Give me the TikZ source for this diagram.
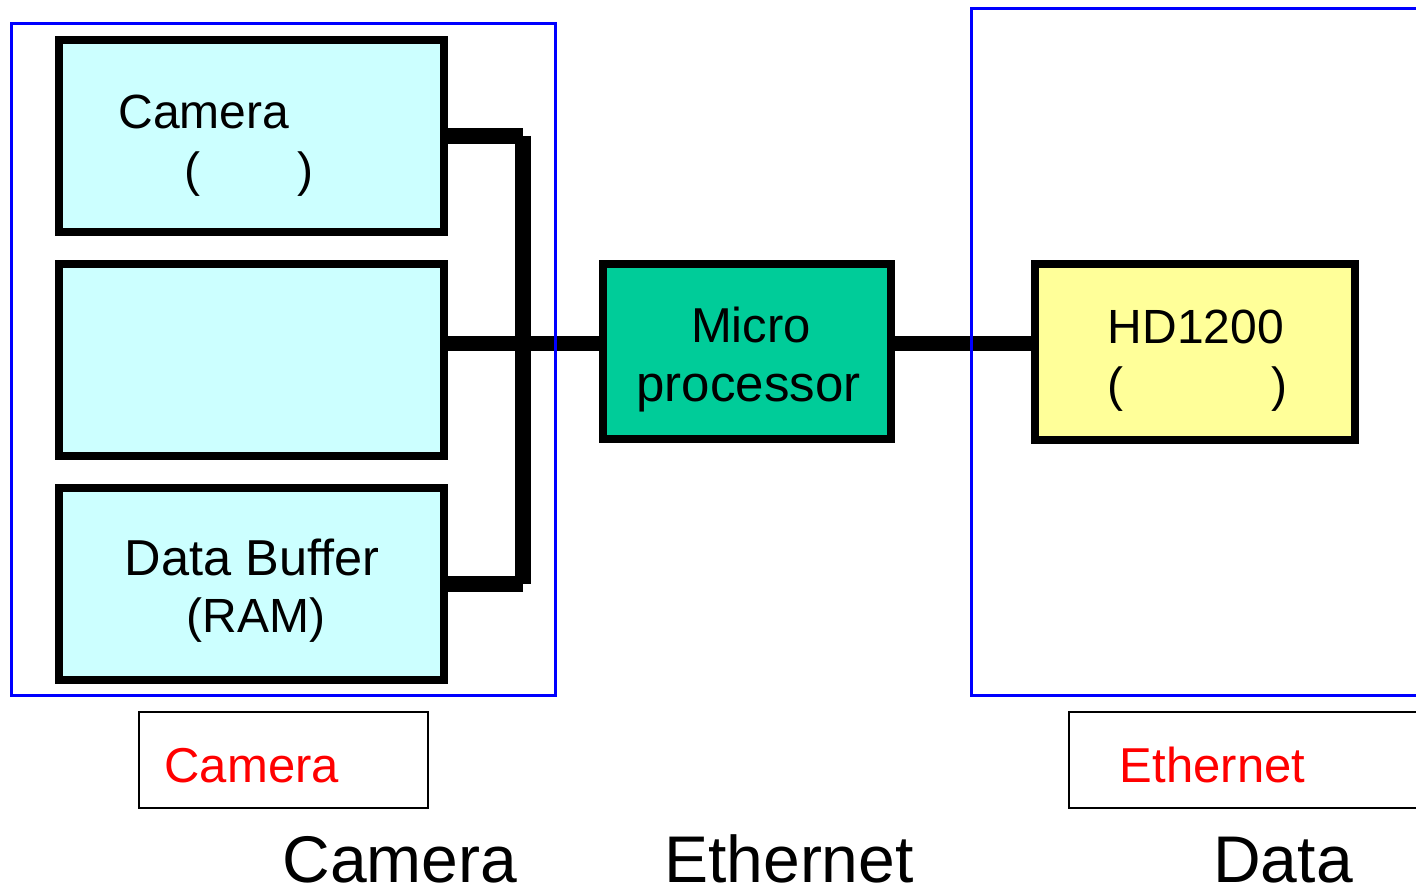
\documentclass[tikz,border=0pt]{standalone}
\usepackage{fontspec}
\setmainfont{Liberation Sans}
\definecolor{boxcyan}{HTML}{CCFFFF}
\definecolor{boxgreen}{HTML}{00CC99}
\definecolor{boxyellow}{HTML}{FFFF99}
\definecolor{frameblue}{HTML}{0000FF}
\definecolor{labelred}{HTML}{FF0000}
\begin{document}
\begin{tikzpicture}[x=1pt,y=-1pt,
  blk/.style={draw=black, line width=8pt, inner sep=0pt, minimum width=385pt, minimum height=192pt, fill=boxcyan},
  wire/.style={line width=15.5pt, line cap=butt, draw=black},
  frame/.style={draw=frameblue, line width=3pt},
  lblbox/.style={draw=black, line width=2pt, inner sep=0pt, fill=white},
  txt/.style={font=\fontsize{48}{55}\selectfont, inner sep=0pt, anchor=base},
  redtxt/.style={font=\fontsize{49}{55}\selectfont, inner sep=0pt, anchor=base, text=labelred},
  bigtxt/.style={font=\fontsize{66}{72}\selectfont, inner sep=0pt, anchor=base}]
\useasboundingbox (0,0) rectangle (1416,888);
\clip (0,0) rectangle (1416,888);
\fill[white] (0,0) rectangle (1416,888);

% blocks
\node[blk] (cam) at (251.5,136) {};
\node[blk] (mid) at (251.5,360) {};
\node[blk] (data) at (251.5,584) {};
\node[blk, fill=boxgreen, minimum width=288pt, minimum height=175.5pt] (micro) at (747,351.7) {};
\node[blk, fill=boxyellow, minimum width=320pt, minimum height=176pt] (hd) at (1195,352) {};

% connectors
\coordinate (busx) at (523.2,343.5);
\draw[wire] (cam.east) -- (busx |- cam.east);
\draw[wire] (data.east) -- (busx |- data.east);
\draw[wire] (busx |- cam.east) -- (busx |- data.east);
\draw[wire] (mid.east |- busx) -- (micro.west |- busx);
\draw[wire] (micro.east |- busx) -- (hd.west |- busx);

% blue frames
\draw[frame] (11.5,23.5) rectangle (555.3,695);
\draw[frame] (971,8.5) rectangle (1425,695);

% bottom label boxes
\node[lblbox, minimum width=289pt, minimum height=96pt] (lblL) at (283.5,760) {};
\node[lblbox, minimum width=360pt, minimum height=96pt, anchor=west] (lblR) at (1068,760) {};

% texts
\node[txt] (camT1) at (204,128.5) {Camera};
\node[txt] (camT2) at (249,186) {(\hspace{97pt})};
\node[txt, font=\fontsize{50.5}{55}\selectfont] (dataT1) at (252,575.5) {Data Buffer};
\node[txt] (dataT2) at (256,632) {(RAM)};
\node[txt, font=\fontsize{49}{55}\selectfont] (microT1) at (751,342.5) {Micro};
\node[txt, font=\fontsize{51}{55}\selectfont] (microT2) at (748.5,401) {processor};
\node[txt] (hdT1) at (1196,343.5) {HD1200};
\node[txt] (hdT2) at (1197,401) {(\hspace{148pt})};

\node[redtxt] (redCam) at (251.7,782) {Camera};
\node[redtxt] (redEth) at (1212.5,782) {Ethernet};

\node[bigtxt] (botCam) at (400,882.5) {Camera};
\node[bigtxt] (botEth) at (789,882.5) {Ethernet};
\node[bigtxt] (botData) at (1283,882.5) {Data};
\end{tikzpicture}
\end{document}
